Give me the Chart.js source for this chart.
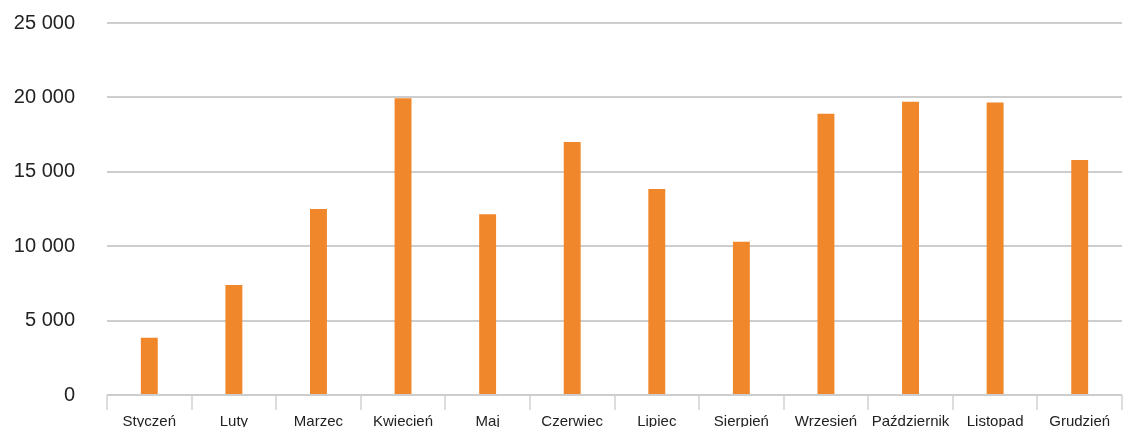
<!DOCTYPE html>
<html>
<head>
<meta charset="utf-8">
<script src="https://cdn.jsdelivr.net/npm/chart.js@4/dist/chart.umd.min.js"></script>
<style>
    html, body { margin: 0; padding: 0; background: #fff; overflow: hidden; }
    #wrap { width: 1126px; height: 444px; position: relative; }
</style>
</head>
<body>
<div id="wrap"><canvas id="chart"></canvas></div>
<script>
// ========================================
// Monthly values
// ========================================

const months = ['Styczeń', 'Luty', 'Marzec', 'Kwiecień', 'Maj', 'Czerwiec',
    'Lipiec', 'Sierpień', 'Wrzesień', 'Październik', 'Listopad', 'Grudzień'];
const values = [3850, 7400, 12500, 19950, 12150, 17000, 13850, 10300, 18900, 19700, 19650, 15800];
const yTicks = [0, 5000, 10000, 15000, 20000, 25000];

const barColor = '#F0872A';
const gridColor = '#cdcdcd';
const fontFamily = '"Liberation Sans", Arial, Helvetica, sans-serif';

// "25 000" style thousands grouping
function formatThousands(v) {
    return String(v).replace(/\B(?=(\d{3})+(?!\d))/g, ' ');
}

const ctx = document.getElementById('chart').getContext('2d');
new Chart(ctx, {
    type: 'bar',
    data: {
        labels: months,
        datasets: [{
            data: values,
            backgroundColor: barColor,
            borderWidth: 0,
            barPercentage: 0.2,
            categoryPercentage: 1
        }]
    },
    options: {
        responsive: true,
        maintainAspectRatio: false,
        animation: false,
        layout: { padding: { top: 23, left: 0, right: 4, bottom: 10 } },
        plugins: {
            legend: { display: false },
            tooltip: { enabled: false }
        },
        scales: {
            x: {
                grid: {
                    offset: true,
                    drawOnChartArea: false,
                    tickLength: 15,
                    color: '#dddddd',
                    lineWidth: 2
                },
                border: { display: false },
                ticks: {
                    color: '#222',
                    padding: 3,
                    maxRotation: 0,
                    autoSkip: false,
                    font: { family: fontFamily, size: 15 }
                },
                afterFit: axis => {
                    axis.paddingLeft = 0;
                    axis.paddingRight = 0;
                }
            },
            y: {
                min: 0,
                max: 25000,
                afterBuildTicks: axis => {
                    axis.ticks = yTicks.map(v => ({ value: v }));
                },
                grid: {
                    color: gridColor,
                    lineWidth: 2,
                    drawTicks: false
                },
                border: { display: false },
                ticks: {
                    color: '#222',
                    padding: 32,
                    font: { family: fontFamily, size: 20 },
                    callback: v => formatThousands(v)
                },
                afterFit: axis => {
                    // fixed axis width so the plot starts where the reference does
                    axis.width = 107;
                    axis.paddingTop = 0;
                    axis.paddingBottom = 0;
                }
            }
        }
    }
});
</script>
</body>
</html>
